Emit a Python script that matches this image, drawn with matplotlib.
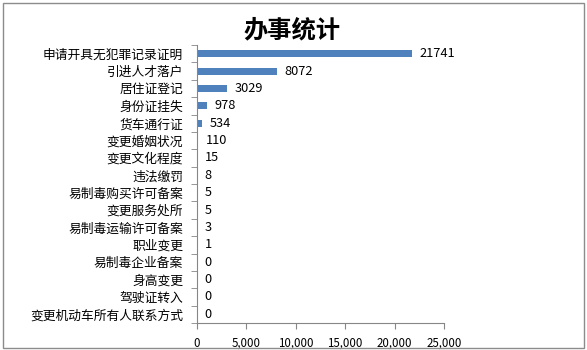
import matplotlib
matplotlib.use('Agg')
import matplotlib.pyplot as plt
from matplotlib.patches import Rectangle
from matplotlib.ticker import FuncFormatter
import numpy as np

plt.rcParams['font.family'] = ['Noto Sans CJK SC', 'DejaVu Sans']

# 数据
categories = ['申请开具无犯罪记录证明', '引进人才落户', '居住证登记', '身份证挂失', '货车通行证',
              '变更婚姻状况', '变更文化程度', '违法缴罚', '易制毒购买许可备案', '变更服务处所',
              '易制毒运输许可备案', '职业变更', '易制毒企业备案', '身高变更', '驾驶证转入',
              '变更机动车所有人联系方式']
counts = [21741, 8072, 3029, 978, 534, 110, 15, 8, 5, 5, 3, 1, 0, 0, 0, 0]
x_ticks = [0, 5000, 10000, 15000, 20000, 25000]

fig = plt.figure(figsize=(5.87, 3.5), dpi=100)
# 外边框
fig.patches.append(Rectangle((3 / 587, 2 / 350), 581 / 587, 345 / 350, transform=fig.transFigure,
                             fill=False, edgecolor='#8c8c8c', linewidth=1))

ax = fig.add_axes([197 / 587, 27 / 350, 247 / 587, 278 / 350])
y = np.arange(len(categories))
ax.barh(y, counts, height=0.4, color='#4F81BD')
# 数据标签
for yi, v in zip(y, counts):
    ax.annotate(str(v), (v, yi), xytext=(5.5, 0), textcoords='offset points',
                va='center', ha='left', fontsize=9.2)

ax.set_ylim(len(categories) - 0.5, -0.5)
ax.set_xlim(0, 25000)
ax.set_xticks(x_ticks)
ax.xaxis.set_major_formatter(FuncFormatter(lambda v, p: f'{int(v):,}'))
ax.set_yticks(y)
ax.set_yticklabels(categories)
ax.set_yticks(np.arange(len(categories) + 1) - 0.5, minor=True)
ax.tick_params(axis='y', which='major', length=0, pad=10, labelsize=9.2)
ax.tick_params(axis='y', which='minor', length=4, color='#868686')
ax.tick_params(axis='x', length=4, color='#868686', labelsize=8.3, pad=6)

for s in ['top', 'right']:
    ax.spines[s].set_visible(False)
for s in ['left', 'bottom']:
    ax.spines[s].set_color('#868686')

fig.text(292 / 587, 1 - 30 / 350, '办事统计', ha='center', va='center', fontsize=17.5, fontweight='bold')

fig.savefig('out.png', dpi=100)
